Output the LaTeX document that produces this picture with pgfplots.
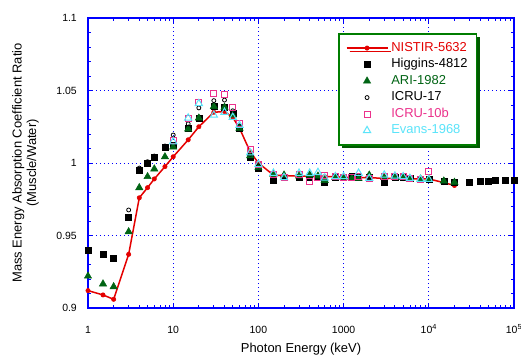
\documentclass[border=0pt]{standalone}
\usepackage{pgfplots}
\pgfplotsset{compat=1.18}
\usepackage{fontspec}
\setmainfont{Liberation Sans}
\usetikzlibrary{shadows}
\definecolor{nistred}{RGB}{228,0,0}
\definecolor{arigreen}{RGB}{0,100,20}
\definecolor{icrupink}{RGB}{235,50,140}
\definecolor{evcyan}{RGB}{90,228,250}
\definecolor{leggreen}{RGB}{0,125,0}
\definecolor{shadgreen}{RGB}{0,90,0}
\pgfplotsset{myleg/.style={legend image code/.code={\draw[mark repeat=2,mark phase=2,##1] plot coordinates {(0bp,0bp) (20.5bp,0bp) (41bp,0bp)};}}}
\begin{document}
\begin{tikzpicture}
\begin{axis}[
  at={(0,0)}, anchor=south west,
  scale only axis, width=426bp, height=290bp,
  xmode=log, xmin=1, xmax=1e5, ymin=0.9, ymax=1.1,
  xtick={1,10,100,1000,10000,100000},
  xticklabels={1,10,100,1000,10\textsuperscript{4},10\textsuperscript{5}},
  ytick={0.9,0.95,1,1.05,1.1},
  yticklabels={0.9,0.95,1,1.05,1.1},
  minor y tick num=4,
  tick align=inside,
  major tick length=5bp, minor tick length=3.5bp,
  tick style={blue, line width=0.8bp},
  axis line style={blue, line width=1.5bp},
  grid=major,
  major grid style={blue, line width=0.9bp, dash pattern=on 1bp off 3bp},
  xticklabel style={anchor=base, inner sep=0pt, yshift=-25bp, font=\fontsize{10.5}{12}\selectfont},
  yticklabel style={anchor=east, inner sep=0pt, xshift=-11bp, font=\fontsize{10.5}{12}\selectfont},
  xlabel={Photon Energy (keV)},
  xlabel style={at={(axis description cs:0.5,-0.1534)}, anchor=base, inner sep=0pt, font=\fontsize{13}{15}\selectfont},
  ylabel={Mass Energy Absorption Coefficient Ratio\\(Muscle/Water)},
  ylabel style={at={(axis description cs:-0.1467,0.5)}, anchor=center, align=center, inner sep=0pt, font=\fontsize{13}{14.5}\selectfont},
  clip=false,
  legend cell align=left,
  legend style={at={(axis description cs:0.587,0.948)}, anchor=north west,
    draw=leggreen, line width=1.5bp, fill=white, inner xsep=7bp, inner ysep=6bp,
    font=\fontsize{13}{15}\selectfont, row sep=0bp, column sep=1bp,
    nodes={inner sep=2bp, text height=9.5bp, text depth=3bp},
    drop shadow={shadow xshift=3bp, shadow yshift=-3.5bp, fill=shadgreen, opacity=1}},
]
\addplot[color=nistred, line width=1.5bp, mark=*, mark size=2.2bp, mark options={fill=nistred, line width=0.5bp}, myleg] table {
1 0.912
1.5 0.909
2 0.906
3 0.937
4 0.976
5 0.983
6 0.989
8 0.9975
10 1.0043
15 1.016
20 1.025
30 1.035
40 1.0355
50 1.0315
60 1.024
80 1.0078
100 1.0
150 0.9917
200 0.9913
300 0.991
400 0.991
500 0.991
600 0.9906
800 0.9905
1000 0.9902
1250 0.990
1500 0.990
2000 0.9898
3000 0.9895
4000 0.9893
5000 0.9892
6000 0.9891
8000 0.989
10000 0.989
15000 0.9865
20000 0.9845
};
\addlegendentry{\textcolor{nistred}{NISTIR-5632}}
\addplot[only marks, color=black, mark=square*, mark size=3bp, line width=0.5bp, myleg] table {
1 0.940
1.5 0.9372
2 0.9343
3 0.9625
4 0.9947
5 1.0
6 1.004
8 1.0108
10 1.012
15 1.024
20 1.031
30 1.039
40 1.0384
50 1.034
60 1.024
80 1.0043
100 0.9966
150 0.988
200 0.990
300 0.990
400 0.9905
500 0.990
600 0.987
800 0.990
1000 0.990
1250 0.9906
1500 0.990
2000 0.990
3000 0.9864
4000 0.990
5000 0.990
6000 0.9895
8000 0.989
10000 0.9885
15000 0.9875
20000 0.9867
30000 0.987
40000 0.9876
50000 0.9876
60000 0.988
80000 0.988
100000 0.988
};
\addlegendentry{\textcolor{black}{Higgins-4812}}
\addplot[only marks, color=arigreen, mark=triangle*, mark size=4.2bp, line width=0.5bp, mark options={fill=arigreen}, myleg] table {
1 0.922
1.5 0.9166
2 0.9147
3 0.9526
4 0.983
5 0.9906
6 0.9959
8 1.0043
10 1.011
15 1.0235
20 1.031
30 1.039
40 1.0384
50 1.033
60 1.024
80 1.005
100 0.997
150 0.992
200 0.9917
300 0.991
400 0.9917
500 0.991
600 0.988
800 0.990
1000 0.990
1250 0.9895
1500 0.9894
2000 0.9917
3000 0.990
4000 0.990
5000 0.990
6000 0.989
8000 0.989
10000 0.9887
15000 0.9876
20000 0.9867
};
\addlegendentry{\textcolor{arigreen}{ARI-1982}}
\addplot[only marks, color=black, mark=o, mark size=2bp, line width=0.8bp, myleg] table {
3 0.9676
4 0.9965
5 1.0009
6 1.0048
8 1.0117
10 1.0193
15 1.027
20 1.038
30 1.043
40 1.0434
50 1.036
60 1.0255
80 1.006
100 0.998
};
\addlegendentry{\textcolor{black}{ICRU-17}}
\addplot[only marks, color=icrupink, mark=square, mark size=3bp, line width=1bp, myleg] table {
10 1.0154
15 1.0308
20 1.0416
30 1.048
40 1.047
50 1.038
60 1.027
80 1.009
100 0.999
150 0.992
200 0.990
300 0.9922
400 0.9872
500 0.990
600 0.9917
800 0.9906
1000 0.990
1250 0.990
1500 0.991
2000 0.9894
3000 0.991
4000 0.991
5000 0.9906
6000 0.9894
8000 0.9887
10000 0.994
};
\addlegendentry{\textcolor{icrupink}{ICRU-10b}}
\addplot[only marks, color=evcyan, mark=triangle, mark size=4.2bp, line width=1bp, myleg] table {
10 1.0147
15 1.031
20 1.041
30 1.033
40 1.035
50 1.0315
60 1.026
80 1.007
100 0.999
150 0.993
200 0.990
300 0.993
400 0.993
500 0.9935
600 0.9897
800 0.9906
1000 0.9906
1500 0.993
2000 0.9894
3000 0.9917
4000 0.991
5000 0.9906
6000 0.9894
8000 0.9887
10000 0.9887
};
\addlegendentry{\textcolor{evcyan}{Evans-1968}}
\end{axis}
\pgfresetboundingbox
\path[use as bounding box] (-88bp,-48bp) rectangle (433bp,308bp);
\end{tikzpicture}
\end{document}
